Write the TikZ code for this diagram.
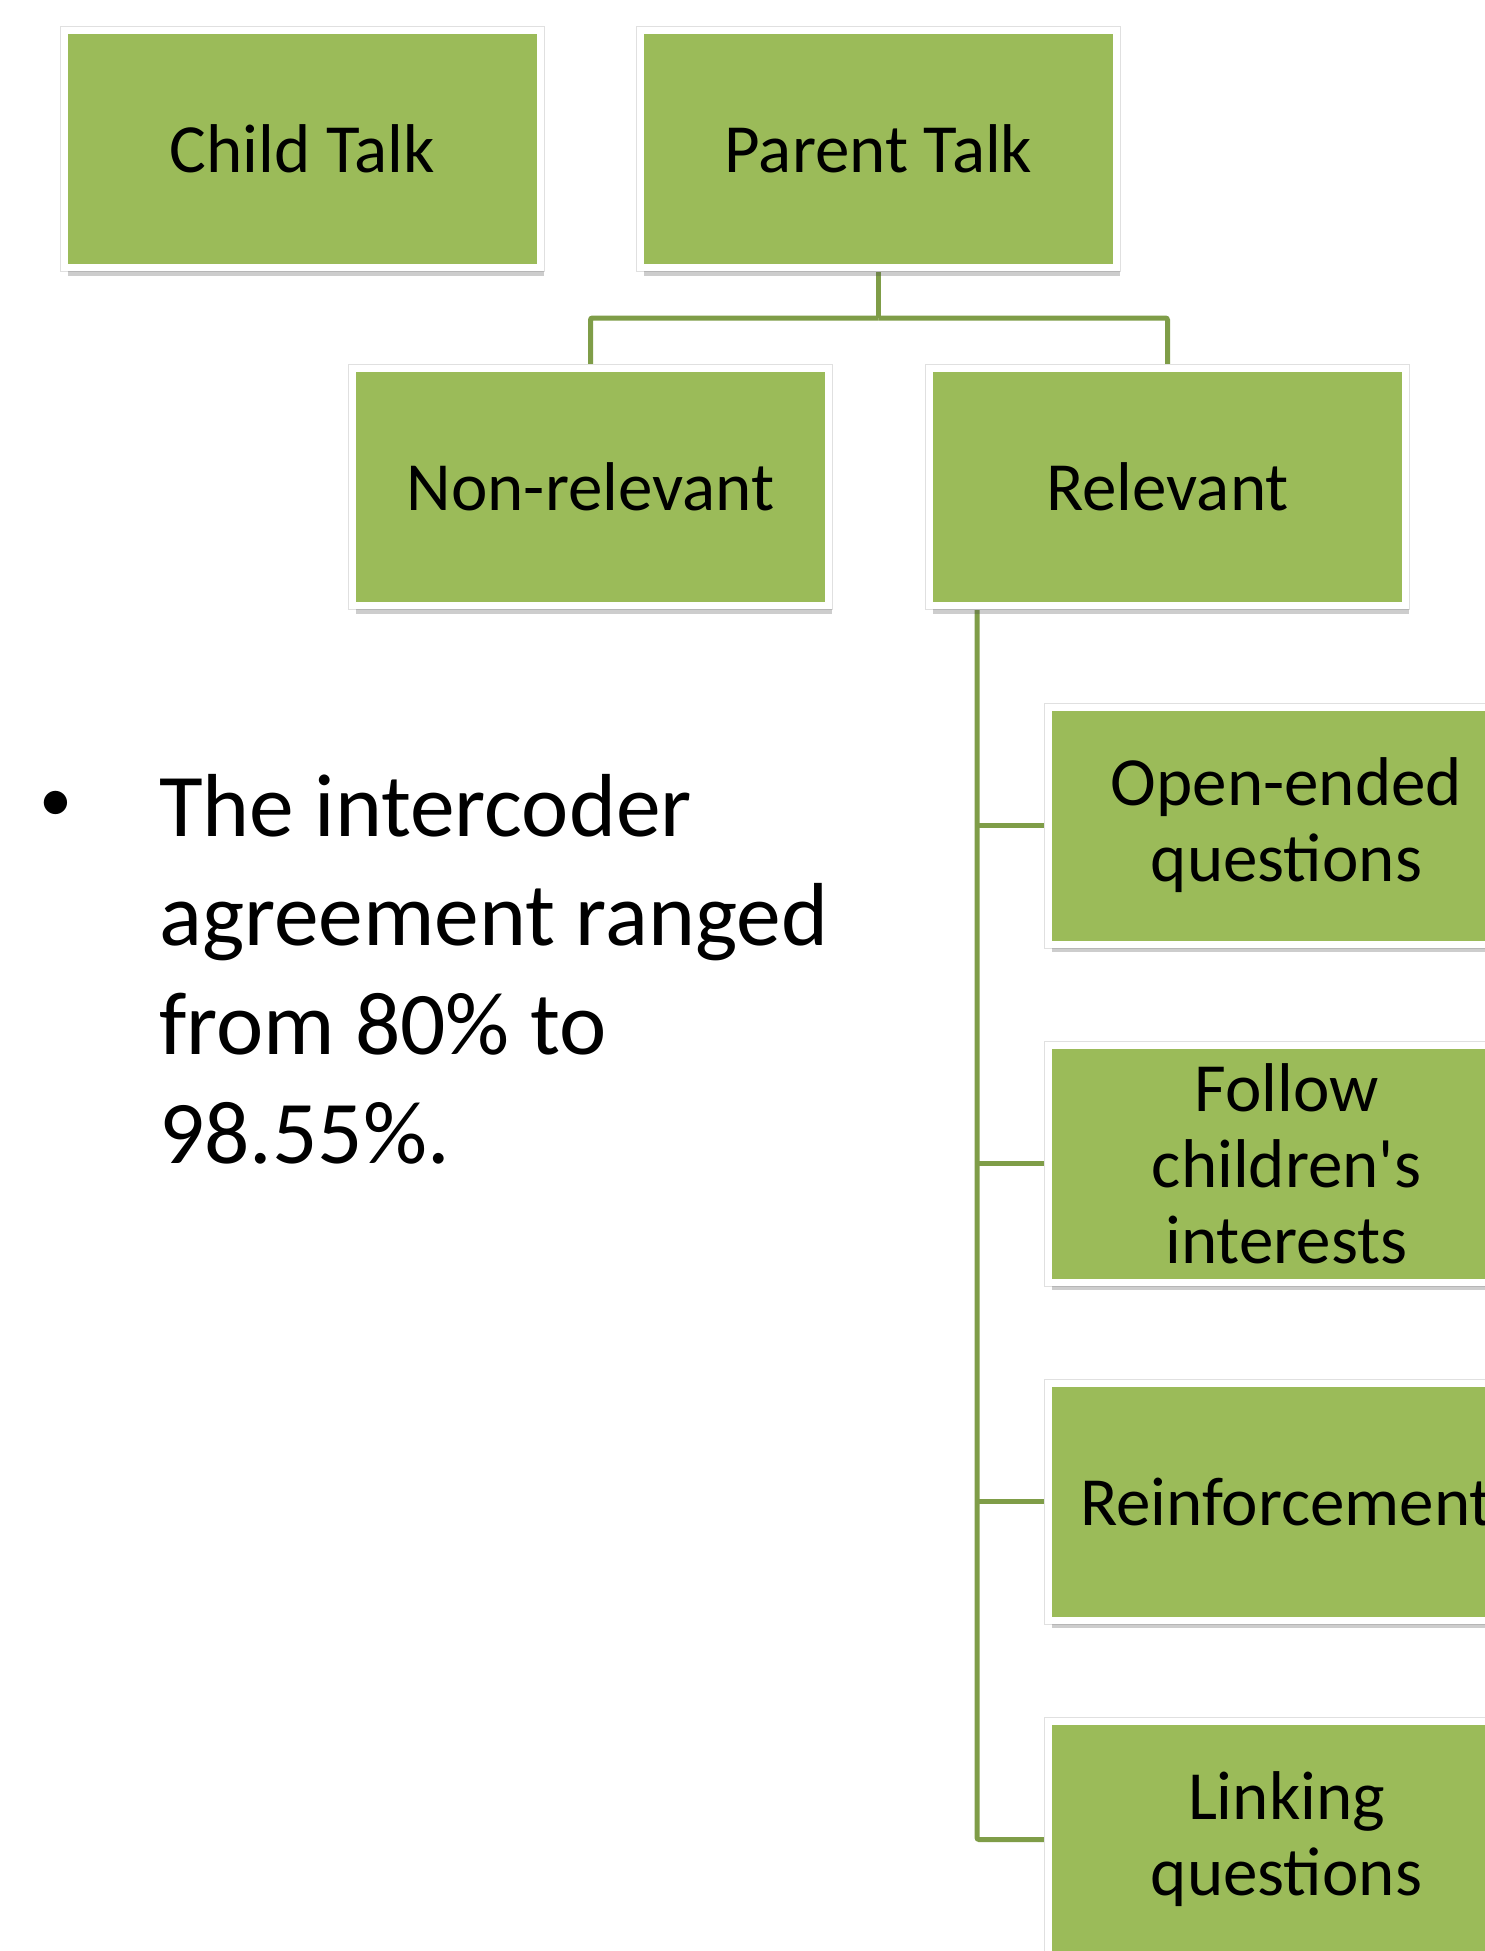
\documentclass[tikz,border=0pt]{standalone}
\usepackage{fontspec}
\newfontfamily\carlito{Carlito}
\usetikzlibrary{shadows,calc}
\definecolor{boxgreen}{HTML}{9BBB59}
\definecolor{linegreen}{HTML}{7F9D48}
\pgfdeclarelayer{bg}
\pgfsetlayers{bg,main}
\begin{document}
\begin{tikzpicture}[x=1pt,y=-1pt,
  box/.style={rectangle, fill=boxgreen, draw=white, line width=7pt,
    minimum width=476pt, minimum height=237pt, inner sep=0pt, align=center,
    font=\carlito\fontsize{69}{76}\selectfont, text=black,
    preaction={draw=black!12, line width=9pt},
    drop shadow={shadow xshift=3pt, shadow yshift=-8pt, opacity=0.28, fill=black!70}},
  conn/.style={draw=linegreen, line width=5pt},
  bul/.style={font=\carlito\fontsize{89.5}{109}\selectfont, anchor=base west, inner sep=0pt, text=black}]
\useasboundingbox (0,0) rectangle (1484,1951);

\node[box] (child)  at (302.5,149) {Child Talk};
\node[box] (parent) at (878.5,149) {Parent Talk};
\node[box] (nonrel) at (590.5,487) {Non-relevant};
\node[box] (rel)    at (1167.5,487) {Relevant};
\node[box] (open)   at (1286.5,825.5) {Open-ended\\questions};
\node[box] (follow) at (1286.5,1163.5) {Follow\\children's\\interests};
\node[box] (reinf)  at (1286.5,1501.5) {Reinforcement};
\node[box] (link)   at (1286.5,1839.5) {Linking\\questions};

\coordinate (hub) at ($(parent.south)+(0,47)$);
\coordinate (trunk) at ($(rel.south west)+(51,0)$);

\begin{pgfonlayer}{bg}
\fill[white] (0,0) rectangle (1484,1951);
\draw[conn] (parent.south) -- (hub);
\draw[conn, rounded corners=2pt] (hub) -| (nonrel.north);
\draw[conn, rounded corners=2pt] (hub) -| (rel.north);
\draw[conn, rounded corners=2pt] (trunk) |- (link.west);
\draw[conn] (trunk |- open.west) -- (open.west);
\draw[conn] (trunk |- follow.west) -- (follow.west);
\draw[conn] (trunk |- reinf.west) -- (reinf.west);
\end{pgfonlayer}

\node[font=\carlito\fontsize{66}{70}\selectfont, inner sep=0pt, anchor=center] (dot) at (56,806) {•};
\node[bul] (l1) at (159,836) {The intercoder};
\node[bul] (l2) at (159,945) {agreement ranged};
\node[bul] (l3) at (159,1054) {from 80\% to};
\node[bul] (l4) at (159,1163) {98.55\%.};
\end{tikzpicture}
\end{document}
